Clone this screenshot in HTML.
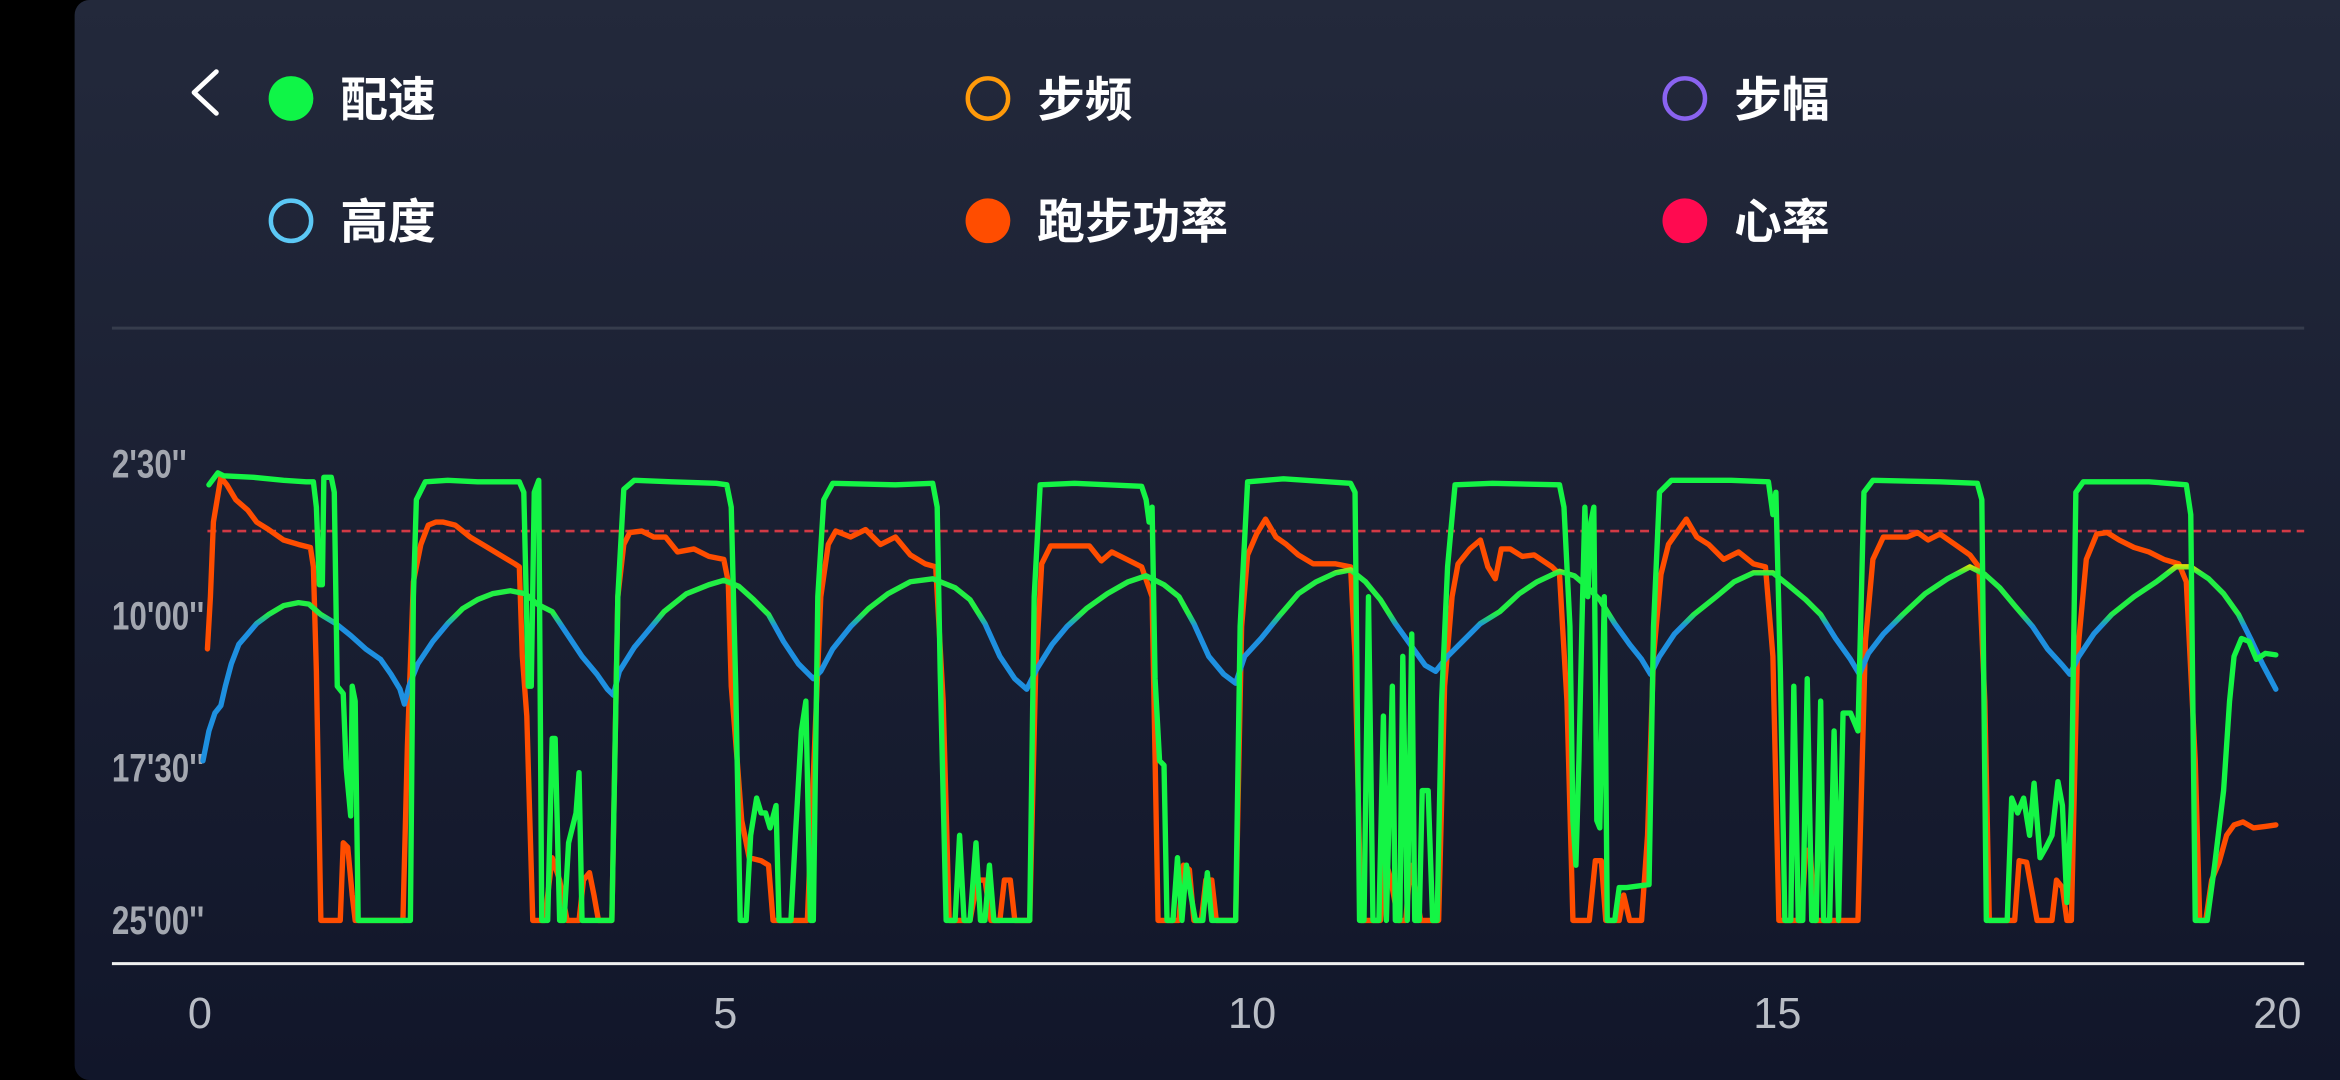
<!DOCTYPE html>
<html><head><meta charset="utf-8"><style>
html,body{margin:0;padding:0;background:#000;}
svg{display:block;}
</style></head><body>
<svg width="2340" height="1080" viewBox="0 0 1568 724" preserveAspectRatio="none" xmlns="http://www.w3.org/2000/svg">
<defs>
<linearGradient id="bg" x1="0" y1="0" x2="0" y2="1">
<stop offset="0" stop-color="#23293b"/><stop offset="1" stop-color="#11162a"/>
</linearGradient>
<linearGradient id="alt" gradientUnits="userSpaceOnUse" x1="0" y1="375" x2="0" y2="470">
<stop offset="0" stop-color="#f5e100"/><stop offset="0.03" stop-color="#f5e100"/>
<stop offset="0.1" stop-color="#22ee44"/><stop offset="0.38" stop-color="#22ee44"/>
<stop offset="0.47" stop-color="#1e90e0"/><stop offset="1" stop-color="#1e90e0"/>
</linearGradient>
</defs>
<rect x="0" y="0" width="1568" height="724" fill="#000"/>
<rect x="50" y="0" width="1530" height="724" rx="10" fill="url(#bg)"/>
<polyline points="145,48 130,62 145,76" fill="none" stroke="#fff" stroke-width="3.2" stroke-linecap="round" stroke-linejoin="round"/>
<g font-family="'Liberation Sans','Noto Sans CJK SC',sans-serif" font-weight="bold" font-size="32" fill="#fff">
<circle cx="195" cy="66" r="15" fill="#0ff547"/><text x="228" y="78">配速</text>
<circle cx="662" cy="66" r="13.5" fill="none" stroke="#ff9a0a" stroke-width="3"/><text x="695" y="78">步频</text>
<circle cx="1129" cy="66" r="13.5" fill="none" stroke="#8a63f0" stroke-width="3"/><text x="1162" y="78">步幅</text>
<circle cx="195" cy="148" r="13.5" fill="none" stroke="#5cc8f5" stroke-width="3"/><text x="228" y="160">高度</text>
<circle cx="662" cy="148" r="15" fill="#ff4d00"/><text x="695" y="160">跑步功率</text>
<circle cx="1129" cy="148" r="15" fill="#ff0a50"/><text x="1162" y="160">心率</text>
</g>
<line x1="75" y1="220" x2="1544" y2="220" stroke="#363c4c" stroke-width="2"/>
<g font-family="'Liberation Sans',sans-serif" font-weight="bold" font-size="27" fill="#a3a7b0" transform="translate(75,0) scale(0.78,1)">
<text x="0" y="320">2'30''</text>
<text x="0" y="422">10'00''</text>
<text x="0" y="524">17'30''</text>
<text x="0" y="626">25'00''</text>
</g>
<line x1="75" y1="646" x2="1544" y2="646" stroke="#f0f0f0" stroke-width="2"/>
<g font-family="'Liberation Sans',sans-serif" font-size="29" fill="#b9bdc5" text-anchor="middle">
<text x="134" y="689">0</text><text x="486" y="689">5</text><text x="839" y="689">10</text><text x="1191" y="689">15</text><text x="1526" y="689">20</text>
</g>
<line x1="139" y1="356" x2="1544" y2="356" stroke="#d23a45" stroke-width="1.8" stroke-dasharray="6,4"/>
<g fill="none" stroke-width="3.6" stroke-linejoin="round" stroke-linecap="round">
<polyline stroke="#ff4d00" points="139,435 141,400 143,350 148,320 152,325 158,335 166,342 172,350 180,355 190,362 200,365 208,367 210,380 212,450 215,617 228,617 230,565 233,568 236,600 238,617 270,617 273,500 277,390 282,365 287,352 292,350 297,350 305,352 315,360 325,366 335,372 345,378 348,380 350,440 353,480 357,617 365,617 370,575 375,590 380,617 388,617 391,590 395,585 398,600 401,617 410,617 414,400 418,365 422,357 430,356 438,360 446,360 454,370 465,368 475,373 485,375 488,390 490,460 494,510 497,550 502,575 510,577 515,580 518,617 541,617 545,520 550,400 555,365 560,356 570,360 580,355 590,365 600,360 610,372 620,378 627,380 632,470 636,617 650,617 655,590 660,590 664,617 670,617 673,590 677,590 680,617 690,617 694,450 698,378 704,366 715,366 730,366 738,376 745,370 755,375 765,380 772,400 776,617 790,617 793,580 797,583 800,617 805,617 808,590 812,590 815,617 828,617 832,420 836,372 842,358 848,348 855,360 862,365 870,372 880,378 895,378 905,380 908,440 912,617 925,617 928,575 932,590 937,617 942,617 945,580 949,600 952,617 964,617 968,460 973,400 977,378 985,368 992,362 997,380 1002,388 1006,368 1012,368 1020,373 1028,372 1040,380 1045,385 1050,470 1054,617 1065,617 1069,577 1073,577 1076,617 1085,617 1088,600 1092,617 1100,617 1104,560 1108,440 1113,385 1118,365 1125,355 1130,348 1137,360 1145,365 1155,375 1165,370 1175,378 1183,380 1188,440 1192,617 1207,617 1210,570 1213,570 1216,617 1245,617 1250,430 1255,375 1262,360 1270,360 1278,360 1285,357 1292,362 1300,358 1310,365 1320,372 1326,380 1330,470 1333,617 1350,617 1353,577 1358,578 1362,600 1365,617 1375,617 1378,590 1382,595 1385,617 1388,617 1392,440 1398,375 1405,358 1412,357 1420,362 1430,367 1440,370 1450,375 1460,378 1465,390 1468,450 1471,510 1474,617 1478,617 1482,590 1487,578 1492,560 1497,553 1503,551 1510,555 1518,554 1525,553"/>
<polyline stroke="url(#alt)" points="136,510 140,490 144,478 148,473 151,460 155,445 160,432 166,425 172,418 180,412 190,406 200,404 207,405 215,412 225,418 235,426 245,435 255,442 262,452 268,462 271,472 274,460 280,445 290,430 300,418 310,408 320,402 330,398 342,396 352,398 360,405 370,410 380,425 390,440 400,452 407,462 411,466 415,450 425,434 435,422 445,410 460,398 475,392 485,389 495,393 505,402 515,412 525,430 535,445 545,455 550,450 558,435 570,420 582,408 595,398 610,390 625,388 640,394 650,402 660,418 670,440 680,455 688,462 695,448 705,432 715,420 728,408 742,398 756,390 768,386 780,392 790,400 800,418 810,440 820,452 828,458 834,440 845,428 858,412 870,398 882,390 895,384 905,382 915,390 925,402 935,418 945,432 955,446 962,450 970,440 980,430 992,418 1005,410 1018,398 1030,390 1045,383 1055,386 1062,392 1072,402 1082,418 1092,432 1100,442 1106,452 1112,440 1122,425 1135,412 1150,400 1162,390 1175,384 1188,384 1198,392 1210,402 1220,412 1230,428 1240,442 1246,452 1252,438 1262,425 1275,412 1290,398 1305,388 1320,380 1330,385 1340,394 1350,406 1362,420 1372,435 1382,446 1387,452 1393,440 1403,425 1415,412 1430,400 1445,390 1458,380 1468,380 1480,388 1490,398 1500,412 1508,428 1516,445 1525,462"/>
<polyline stroke="#14f545" points="140,325 146,317 150,319 170,320 190,322 205,323 210,323 212,340 214,392 216,392 217,320 222,320 224,330 226,460 230,465 232,515 235,547 236,460 238,470 240,617 275,617 277,400 279,335 285,323 300,322 320,323 348,323 351,330 354,460 356,460 358,330 361,322 363,617 367,617 370,495 372,495 375,617 378,617 381,565 386,545 388,518 390,617 410,617 414,400 418,328 425,322 450,323 480,324 487,325 490,340 493,460 496,617 500,617 503,560 507,535 510,545 513,545 516,555 520,540 522,617 530,617 533,560 537,490 540,470 543,617 545,617 548,400 552,335 558,324 600,325 625,324 628,340 630,450 634,617 640,617 643,560 646,617 650,617 654,565 657,617 660,617 663,580 666,617 690,617 693,400 697,325 720,324 765,326 768,335 770,350 772,340 774,455 777,510 780,513 782,617 786,617 789,575 792,617 795,580 798,600 801,617 806,617 809,585 812,617 828,617 831,420 836,323 860,321 905,324 908,330 911,617 914,617 917,400 920,617 924,617 927,480 929,617 933,460 935,617 938,617 940,440 943,617 946,425 948,617 951,617 953,530 957,530 960,617 963,617 966,470 970,380 975,325 1000,324 1045,325 1048,340 1052,420 1054,550 1056,580 1058,510 1060,420 1062,340 1064,400 1066,350 1068,340 1070,550 1072,555 1075,400 1077,617 1082,617 1085,595 1090,595 1105,593 1108,420 1112,330 1120,322 1160,322 1185,323 1188,345 1190,330 1193,450 1196,617 1200,617 1202,460 1205,617 1208,617 1211,455 1214,617 1217,617 1220,470 1222,617 1226,617 1229,490 1232,617 1235,478 1240,478 1245,490 1249,330 1255,322 1300,323 1325,324 1328,335 1331,617 1345,617 1348,535 1352,545 1356,535 1360,560 1363,525 1367,575 1371,568 1375,560 1379,524 1382,540 1385,605 1388,540 1391,330 1396,323 1440,323 1465,325 1468,345 1471,617 1479,617 1484,580 1490,530 1494,470 1497,440 1502,428 1507,430 1512,442 1518,438 1525,439"/>
</g>
</svg>
</body></html>
